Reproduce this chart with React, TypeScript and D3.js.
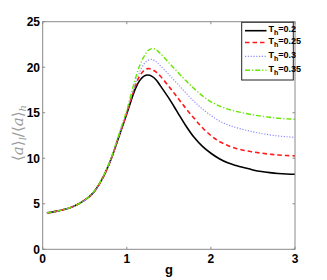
import React from "react";
import * as d3 from "d3";

const gValues = [0.05, 0.2, 0.35, 0.5, 0.6, 0.7, 0.8, 0.9, 1.0, 1.05, 1.1, 1.15, 1.2, 1.25, 1.3, 1.35, 1.4, 1.5, 1.6, 1.7, 1.8, 1.9, 2.0, 2.1, 2.2, 2.3, 2.4, 2.5, 2.6, 2.7, 2.8, 2.9, 3.0];

const th02 = [4.0, 4.25, 4.65, 5.4, 6.2, 7.6, 9.6, 12.2, 14.9, 16.3, 17.6, 18.5, 19.0, 19.15, 19.0, 18.6, 17.95, 16.6, 15.1, 13.6, 12.3, 11.3, 10.55, 9.95, 9.5, 9.2, 8.95, 8.72, 8.54, 8.42, 8.33, 8.27, 8.24];
const th025 = [4.0, 4.25, 4.65, 5.4, 6.2, 7.6, 9.6, 12.25, 15.0, 16.5, 17.9, 19.0, 19.6, 19.85, 19.75, 19.45, 19.0, 17.9, 16.7, 15.5, 14.4, 13.35, 12.5, 11.85, 11.4, 11.08, 10.86, 10.7, 10.56, 10.45, 10.36, 10.3, 10.26];
const th03 = [4.0, 4.25, 4.65, 5.4, 6.2, 7.6, 9.6, 12.3, 15.1, 16.7, 18.2, 19.4, 20.3, 20.75, 20.85, 20.6, 20.15, 19.2, 18.2, 17.2, 16.25, 15.4, 14.7, 14.1, 13.68, 13.37, 13.12, 12.9, 12.72, 12.57, 12.45, 12.36, 12.3];
const th035 = [4.0, 4.25, 4.65, 5.4, 6.25, 7.65, 9.7, 12.45, 15.3, 17.0, 18.7, 20.1, 21.1, 21.8, 22.05, 21.9, 21.5, 20.5, 19.5, 18.55, 17.65, 16.85, 16.2, 15.75, 15.4, 15.15, 14.95, 14.77, 14.62, 14.5, 14.4, 14.33, 14.28];

const seriesNames = ["0.2", "0.25", "0.3", "0.35"];
const seriesValues = [th02, th025, th03, th035];
const xTicks = [0, 1, 2, 3];
const yTicks = [0, 5, 10, 15, 20, 25];

const colors = ["#000000", "#ff1a1a", "#8c8cff", "#66e600"];
const dashes = ["none", "4.5,3", "1.2,1.6", "5,2,1.2,2"];
const widths = [1.6, 1.6, 1.2, 1.4];

export default function App() {
  const W = 327, H = 280;
  const left = 42.7, right = 295, top = 21.7, bottom = 249.3;
  const x = d3.scaleLinear().domain([0, 3]).range([left, right]);
  const y = d3.scaleLinear().domain([0, 25]).range([bottom, top]);
  const line = d3
    .line<[number, number]>()
    .x((d) => x(d[0]))
    .y((d) => y(d[1]))
    .curve(d3.curveCatmullRom.alpha(0.5));
  const axisColor = "#8a8a8a";
  const tl = 2.5;
  const font = "'Liberation Sans', Arial, sans-serif";

  const legX = 241.7, legY = 22.3, legW = 51.6, legH = 57.7;
  const rowY = [30.7, 42.5, 56.3, 70.3];

  return (
    <svg width={W} height={H} style={{ position: "absolute", left: 0, top: 0 }}>
      <rect x={0} y={0} width={W} height={H} fill="#fff" />
      {seriesValues.map((vals, i) => (
        <path
          key={i}
          d={line(gValues.map((g, j) => [g, vals[j]] as [number, number])) || ""}
          fill="none"
          stroke={colors[i]}
          strokeWidth={widths[i]}
          strokeDasharray={dashes[i]}
        />
      ))}
      <rect x={left} y={top} width={right - left} height={bottom - top} fill="none" stroke={axisColor} strokeWidth={1} />
      {xTicks.map((t) => (
        <g key={"x" + t}>
          <line x1={x(t)} x2={x(t)} y1={bottom} y2={bottom - tl} stroke={axisColor} />
          <line x1={x(t)} x2={x(t)} y1={top} y2={top + tl} stroke={axisColor} />
          <text x={x(t)} y={263} textAnchor="middle" fontFamily={font} fontWeight="bold" fontSize={12} fill="#000">
            {t}
          </text>
        </g>
      ))}
      {yTicks.map((t) => (
        <g key={"y" + t}>
          <line x1={left} x2={left + tl} y1={y(t)} y2={y(t)} stroke={axisColor} />
          <line x1={right} x2={right - tl} y1={y(t)} y2={y(t)} stroke={axisColor} />
          <text x={40} y={y(t) + 4.3} textAnchor="end" fontFamily={font} fontWeight="bold" fontSize={12} fill="#000">
            {t}
          </text>
        </g>
      ))}
      <text x={169} y={274} textAnchor="middle" fontFamily={font} fontWeight="bold" fontSize={13} fill="#000">
        g
      </text>
      <text
        transform={`translate(23,133) rotate(-90)`}
        textAnchor="middle"
        fontFamily="'DejaVu Serif', 'Liberation Serif', serif"
        fontSize={15}
        fill="#9a9a9a"
      >
        <tspan>⟨</tspan>
        <tspan fontStyle="italic">a</tspan>
        <tspan>⟩</tspan>
        <tspan fontStyle="italic" fontSize={10} dy={3}>l</tspan>
        <tspan dy={-3}>/</tspan>
        <tspan>⟨</tspan>
        <tspan fontStyle="italic">a</tspan>
        <tspan>⟩</tspan>
        <tspan fontStyle="italic" fontSize={10} dy={3}>h</tspan>
      </text>
      <rect x={legX} y={legY} width={legW} height={legH} fill="#fff" stroke="#222" strokeWidth={1} />
      {seriesNames.map((n, i) => (
        <g key={"l" + i}>
          <line
            x1={245}
            x2={266.5}
            y1={rowY[i]}
            y2={rowY[i]}
            stroke={colors[i]}
            strokeWidth={widths[i]}
            strokeDasharray={dashes[i]}
          />
          <text x={268.5} y={rowY[i] + 1.5} fontFamily={font} fontWeight="bold" fontSize={9} fill="#000">
            <tspan>T</tspan>
            <tspan fontSize={7} dy={3}>h</tspan>
            <tspan dy={-3}>={n}</tspan>
          </text>
        </g>
      ))}
    </svg>
  );
}
